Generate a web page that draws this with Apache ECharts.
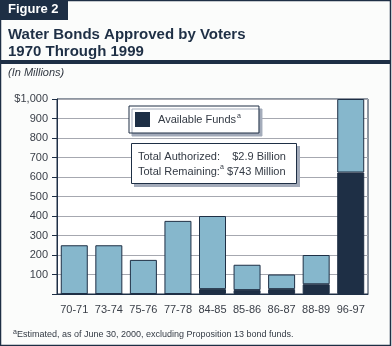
<!DOCTYPE html>
<html>
<head>
<meta charset="utf-8">
<script src="https://cdn.jsdelivr.net/npm/echarts@6/dist/echarts.min.js"></script>
<style>
html,body{margin:0;padding:0;background:#fbfcfb;}
#c{width:392px;height:346px;}
</style>
</head>
<body>
<div id="c"></div>
<script>
var categories = ['70-71','73-74','75-76','77-78','84-85','85-86','86-87','88-89','96-97'];
var totalAuthorized = [250, 250, 175, 375, 400, 150, 100, 200, 1000];
var availableFunds = [0, 0, 0, 0, 25, 20, 25, 50, 623];
var yTickValues = [0,100,200,300,400,500,600,700,800,900,1000];
var yTickLabels = ['','100','200','300','400','500','600','700','800','900','$1,000'];

var spentFunds = totalAuthorized.map(function(t, i){ return t - availableFunds[i]; });

var NAVY = '#1e2f45';
var LIGHT = '#86b7cc';
var FONT = '"Liberation Sans", Arial, sans-serif';

var chart = echarts.init(document.getElementById('c'), null, {renderer:'canvas'});
chart.setOption({
  backgroundColor: '#fbfcfb',
  animation: false,
  grid: {left:57, right:24, top:99, bottom:52, show:true, borderColor:NAVY, borderWidth:1, backgroundColor:'#ffffff'},
  legend: {
    data: ['Available Funds'],
    left: 129, top: 106,
    padding: [6, 18, 6, 6],
    itemWidth: 13, itemHeight: 13, itemGap: 0,
    icon: 'rect',
    backgroundColor: '#ffffff',
    borderColor: NAVY, borderWidth: 1,
    shadowColor: '#a3abba', shadowBlur: 0, shadowOffsetX: 3, shadowOffsetY: 3,
    formatter: function(n){ return n + '{sup|a}'; },
    textStyle: {
      fontFamily: FONT, fontSize: 11, color: '#333a44', padding:[0,0,0,4],
      rich: { sup: {fontFamily: FONT, fontSize: 7, verticalAlign:'top', padding:[0,0,6,1], color:'#333a44'} }
    }
  },
  xAxis: {
    type: 'category', data: categories,
    axisLine: {lineStyle:{color:NAVY, width:1}},
    axisTick: {show:false},
    axisLabel: {fontFamily: FONT, fontSize: 11, color:'#3a3f48', margin: 10, interval: 0}
  },
  yAxis: {
    type: 'value', min: 0, max: 1000, interval: 100,
    axisLine: {show:true, lineStyle:{color:NAVY, width:1}},
    axisTick: {show:true, length:5, lineStyle:{color:NAVY}},
    splitLine: {lineStyle:{color:'#a6a8b0', width:1}},
    axisLabel: {
      fontFamily: FONT, fontSize: 11, color:'#3a3f48', margin: 9,
      formatter: function(v){ var i = yTickValues.indexOf(v); return i >= 0 ? yTickLabels[i] : ''; }
    }
  },
  series: [
    {
      name: 'Available Funds', type: 'bar', stack: 's', barWidth: 27,
      data: availableFunds,
      itemStyle: {color: NAVY, borderColor: NAVY, borderWidth: 1}
    },
    {
      name: 'Spent', type: 'bar', stack: 's', barWidth: 27,
      data: spentFunds,
      itemStyle: {color: LIGHT, borderColor: NAVY, borderWidth: 1}
    }
  ],
  graphic: [
    {type:'rect', shape:{x:0.5, y:0.5, width:390, height:345}, style:{fill:null, stroke:NAVY, lineWidth:1.5}, z:100},
    {type:'rect', shape:{x:0, y:60, width:391, height:4}, style:{fill:NAVY}, z:100},
    {type:'rect', shape:{x:0, y:0, width:68, height:20}, style:{fill:NAVY}, z:100},
    {type:'text', left:8, top:3, style:{text:'Figure 2', fill:'#ffffff', font:'bold 13px ' + FONT}, z:101},
    {type:'text', left:8, top:26, style:{text:'Water Bonds Approved by Voters\n1970 Through 1999', fill:NAVY, font:'bold 15px ' + FONT, lineHeight:17}, z:101},
    {type:'text', left:8, top:67, style:{text:'(In Millions)', fill:'#333a44', font:'italic 11px ' + FONT}, z:101},
    {type:'rect', shape:{x:134, y:146, width:166, height:41}, style:{fill:'#a3abba'}, z:50},
    {type:'rect', shape:{x:131.5, y:143.5, width:165, height:40}, style:{fill:'#ffffff', stroke:NAVY, lineWidth:1}, z:51},
    {type:'text', left:138, top:149, z:52, style:{
      text:'Total Authorized:    $2.9 Billion\nTotal Remaining:{sup|a} $743 Million',
      fill:'#333a44', font:'11px ' + FONT, lineHeight:15,
      rich:{sup:{fontFamily:FONT, fontSize:7, verticalAlign:'top', padding:[0,0,6,0], fill:'#333a44'}}
    }},
    {type:'text', left:13, top:329, z:52, style:{
      text:'{sup|a}Estimated, as of June 30, 2000, excluding Proposition 13 bond funds.',
      fill:'#333a44', font:'9px ' + FONT,
      rich:{sup:{fontFamily:FONT, fontSize:7, verticalAlign:'top', padding:[0,0,5,0], fill:'#333a44'}}
    }}
  ]
});
</script>
</body>
</html>
